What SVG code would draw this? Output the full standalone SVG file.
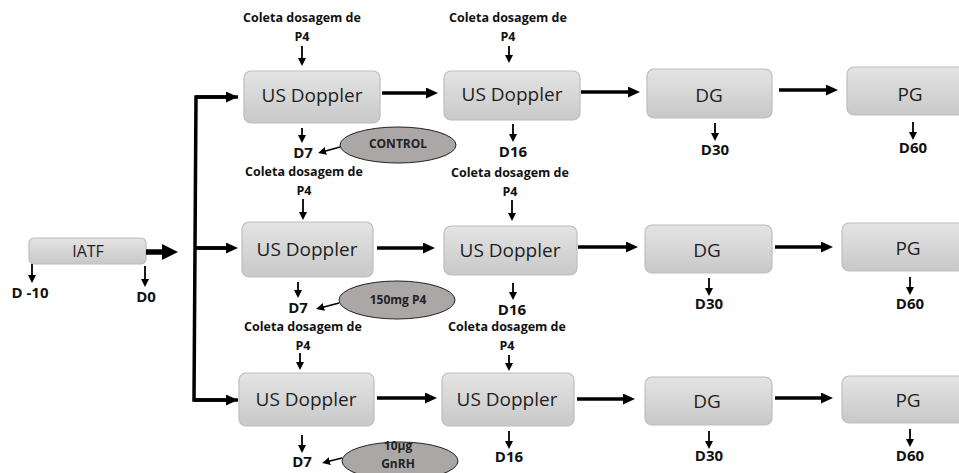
<svg xmlns="http://www.w3.org/2000/svg" width="959" height="473" viewBox="0 0 959 473">
<defs>
<linearGradient id="g" x1="0" y1="0" x2="0" y2="1">
<stop offset="0" stop-color="#e4e4e4"/>
<stop offset="1" stop-color="#c8c8c8"/>
</linearGradient>
<marker id="sm" markerUnits="userSpaceOnUse" viewBox="0 0 8 8" markerWidth="8" markerHeight="8" refX="4" refY="4" orient="auto"><path d="M0,0 L8,4 L0,8 z" fill="#000"/></marker>
<marker id="md" markerUnits="userSpaceOnUse" viewBox="0 0 12 11" markerWidth="12" markerHeight="11" refX="5" refY="5.5" orient="auto"><path d="M0,0 L12,5.5 L0,11 z" fill="#000"/></marker>
<marker id="bg" markerUnits="userSpaceOnUse" viewBox="0 0 16 16" markerWidth="16" markerHeight="16" refX="6" refY="8" orient="auto"><path d="M0,0 L16,8 L0,16 z" fill="#000"/></marker>
</defs>
<style>
.box{fill:url(#g);stroke:#bdbdbd;stroke-width:1.2}
.bt{font-family:"Open Sans","Noto Sans",sans-serif;font-size:19px;fill:#1e1e1e;text-anchor:middle}
.lb{font-family:"Open Sans","Noto Sans",sans-serif;font-weight:bold;font-size:12.5px;fill:#111;text-anchor:middle}
.dl{font-family:"Open Sans","Noto Sans",sans-serif;font-weight:bold;font-size:15px;fill:#111;text-anchor:middle}
.el{fill:#aba7a7;stroke:#222;stroke-width:1}
.et{font-family:"Open Sans","Noto Sans",sans-serif;font-weight:bold;font-size:12px;fill:#222;text-anchor:middle}
.s{stroke:#000;stroke-width:1.8;fill:none;marker-end:url(#sm)}
.m{stroke:#000;stroke-width:3.5;fill:none;marker-end:url(#md)}
.b{stroke:#000;stroke-width:5.5;fill:none;marker-end:url(#bg)}
.br{stroke:#000;stroke-width:3.5;fill:none}
</style>

<g id="iatf">
<rect class="box" x="29" y="238" width="117" height="26" rx="5"/>
<text class="bt" x="88" y="257" style="font-size:16px">IATF</text>
<text class="dl" x="30" y="298">D -10</text>
<text class="dl" x="146" y="302">D0</text>
</g>

<g id="row1-us1">
<rect class="box" x="244" y="71" width="136" height="52" rx="7"/>
<text class="bt" x="312" y="102">US Doppler</text>
<text class="lb" x="302" y="22">Coleta dosagem de</text>
<text class="lb" x="302" y="41">P4</text>
<text class="dl" x="303" y="158">D7</text>
</g>
<g id="row1-control">
<ellipse class="el" cx="398" cy="145" rx="58" ry="18"/>
<text class="et" x="398" y="148">CONTROL</text>
</g>
<g id="row1-us2">
<rect class="box" x="444" y="71" width="136" height="49" rx="7"/>
<text class="bt" x="512" y="101">US Doppler</text>
<text class="lb" x="508" y="22">Coleta dosagem de</text>
<text class="lb" x="508" y="41">P4</text>
<text class="dl" x="513" y="157">D16</text>
</g>
<g id="row1-dg">
<rect class="box" x="647" y="69" width="125" height="49" rx="7"/>
<text class="bt" x="709" y="102">DG</text>
<text class="dl" x="715" y="155">D30</text>
</g>
<g id="row1-pg">
<rect class="box" x="847" y="67" width="130" height="48" rx="7"/>
<text class="bt" x="910" y="101">PG</text>
<text class="dl" x="913" y="153">D60</text>
</g>

<g id="row2-us1">
<rect class="box" x="242" y="222" width="131" height="55" rx="7"/>
<text class="bt" x="307" y="256">US Doppler</text>
<text class="lb" x="304" y="176">Coleta dosagem de</text>
<text class="lb" x="304" y="195">P4</text>
<text class="dl" x="298" y="313">D7</text>
</g>
<g id="row2-p4">
<ellipse class="el" cx="397" cy="300" rx="58" ry="19"/>
<text class="et" x="398" y="304">150mg P4</text>
</g>
<g id="row2-us2">
<rect class="box" x="444" y="226" width="133" height="49" rx="7"/>
<text class="bt" x="510" y="257">US Doppler</text>
<text class="lb" x="510" y="177">Coleta dosagem de</text>
<text class="lb" x="510" y="196">P4</text>
<text class="dl" x="512" y="315">D16</text>
</g>
<g id="row2-dg">
<rect class="box" x="645" y="225" width="127" height="48" rx="7"/>
<text class="bt" x="707" y="257">DG</text>
<text class="dl" x="709" y="309">D30</text>
</g>
<g id="row2-pg">
<rect class="box" x="842" y="223" width="130" height="48" rx="7"/>
<text class="bt" x="908" y="255">PG</text>
<text class="dl" x="910" y="309">D60</text>
</g>

<g id="row3-us1">
<rect class="box" x="239" y="373" width="135" height="53" rx="7"/>
<text class="bt" x="306" y="406">US Doppler</text>
<text class="lb" x="303" y="331">Coleta dosagem de</text>
<text class="lb" x="303" y="350">P4</text>
<text class="dl" x="302" y="467">D7</text>
</g>
<g id="row3-gnrh">
<ellipse class="el" cx="400" cy="461" rx="58" ry="19"/>
<text class="et" x="398" y="450">10µg</text>
<text class="et" x="398" y="468">GnRH</text>
</g>
<g id="row3-us2">
<rect class="box" x="442" y="373" width="132" height="53" rx="7"/>
<text class="bt" x="507" y="406">US Doppler</text>
<text class="lb" x="507" y="331">Coleta dosagem de</text>
<text class="lb" x="507" y="350">P4</text>
<text class="dl" x="509" y="462">D16</text>
</g>
<g id="row3-dg">
<rect class="box" x="645" y="377" width="127" height="48" rx="7"/>
<text class="bt" x="707" y="408">DG</text>
<text class="dl" x="709" y="461">D30</text>
</g>
<g id="row3-pg">
<rect class="box" x="842" y="376" width="130" height="47" rx="7"/>
<text class="bt" x="908" y="407">PG</text>
<text class="dl" x="910" y="461">D60</text>
</g>

<g id="connectors">
<line class="s" x1="32" y1="264" x2="32" y2="279"/>
<line class="s" x1="145" y1="266" x2="145" y2="283"/>
<line class="b" x1="146" y1="252" x2="168" y2="252"/>
<polyline class="br" points="238,97 196,97 194,400 238,400" style="stroke-linejoin:miter"/>
<line class="br" x1="195" y1="248" x2="232" y2="248"/>
<line class="m" x1="196" y1="97" x2="231" y2="97"/>
<line class="m" x1="195" y1="248" x2="231" y2="248"/>
<line class="m" x1="194" y1="400" x2="231" y2="400"/>
<line class="s" x1="302" y1="46" x2="302" y2="62"/>
<line class="s" x1="302" y1="128" x2="302" y2="139"/>
<line class="s" x1="340" y1="147" x2="322" y2="152"/>
<line class="m" x1="382" y1="93" x2="431" y2="93"/>
<line class="s" x1="509" y1="46" x2="509" y2="59"/>
<line class="s" x1="513" y1="124" x2="513" y2="138"/>
<line class="m" x1="581" y1="92" x2="633" y2="92"/>
<line class="s" x1="715" y1="123" x2="715" y2="137"/>
<line class="m" x1="779" y1="90" x2="831" y2="90"/>
<line class="s" x1="913" y1="122" x2="913" y2="136"/>
<line class="s" x1="303" y1="199" x2="303" y2="216"/>
<line class="s" x1="298" y1="282" x2="298" y2="294"/>
<line class="s" x1="339" y1="303" x2="320" y2="308"/>
<line class="m" x1="377" y1="248" x2="428" y2="248"/>
<line class="s" x1="512" y1="200" x2="512" y2="217"/>
<line class="s" x1="513" y1="283" x2="513" y2="296"/>
<line class="m" x1="578" y1="247" x2="631" y2="247"/>
<line class="s" x1="709" y1="278" x2="709" y2="292"/>
<line class="m" x1="775" y1="247" x2="826" y2="247"/>
<line class="s" x1="910" y1="277" x2="910" y2="291"/>
<line class="s" x1="300" y1="353" x2="300" y2="366"/>
<line class="s" x1="302" y1="435" x2="302" y2="449"/>
<line class="s" x1="342" y1="458" x2="326" y2="462"/>
<line class="m" x1="377" y1="398" x2="430" y2="398"/>
<line class="s" x1="509" y1="355" x2="509" y2="367"/>
<line class="s" x1="509" y1="431" x2="509" y2="445"/>
<line class="m" x1="577" y1="399" x2="628" y2="399"/>
<line class="s" x1="709" y1="431" x2="709" y2="445"/>
<line class="m" x1="775" y1="398" x2="826" y2="398"/>
<line class="s" x1="910" y1="429" x2="910" y2="443"/>
</g>
</svg>
